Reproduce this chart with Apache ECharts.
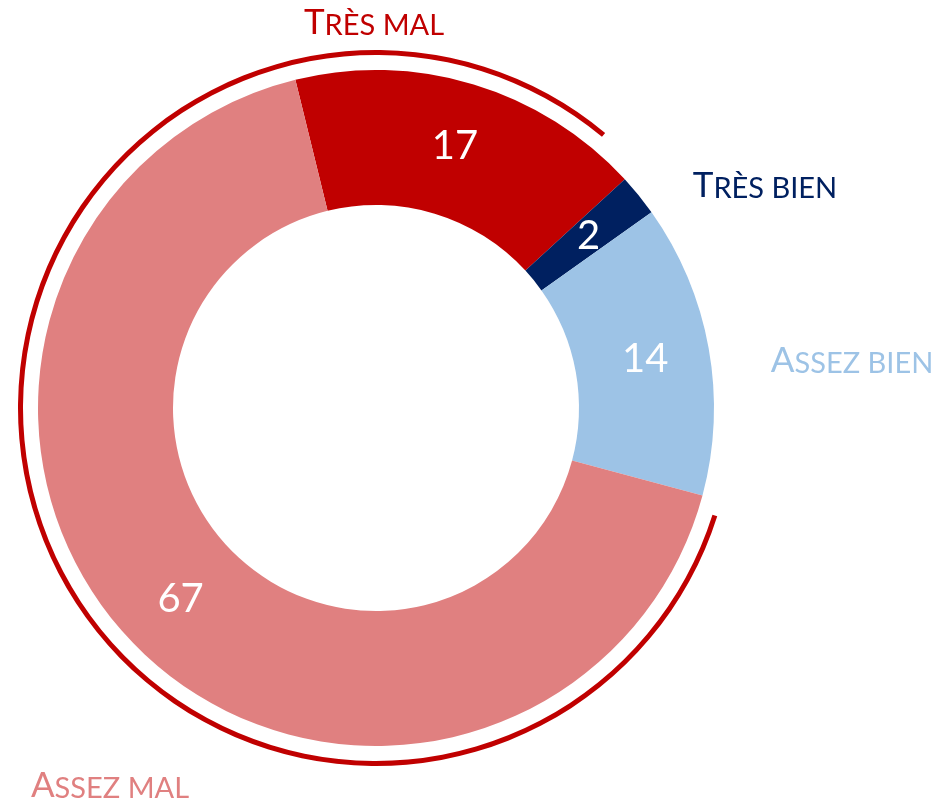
<!DOCTYPE html>
<html>
<head>
<meta charset="utf-8">
<script src="https://cdn.jsdelivr.net/npm/echarts@6/dist/echarts.min.js"></script>
<style>
  html, body { margin: 0; padding: 0; background: #fff; }
  #chart { width: 938px; height: 804px; }
</style>
</head>
<body>
<div id="chart"></div>
<script>
// categories and values, in clockwise order from the top
var categories = ['Très mal', 'Très bien', 'Assez bien', 'Assez mal'];
var values = [17, 2, 14, 67];
// bracket arc round the "mal" slices: covered degrees, then the gap
var bracketArc = [292.2, 67.8];

var palette = ['#C00000', '#002060', '#9DC3E6', '#E08080'];
var labelPos = [[374, 23], [765, 186], [852, 361], [110, 786]];
var fontFamily = 'Lato, "Open Sans", sans-serif';

function smallCaps(name) {
    return '{a|' + name.charAt(0).toUpperCase() + '}{b|' + name.slice(1).toUpperCase() + '}';
}

var chart = echarts.init(document.getElementById('chart'));

var sliceData = categories.map(function (name, i) {
    return {
        name: name,
        value: values[i],
        itemStyle: { color: palette[i] },
        label: { color: palette[i] }
    };
});

var option = {
    backgroundColor: '#fff',
    animation: false,
    series: [{
        // slices with values inside
        type: 'pie',
        center: [376, 408],
        radius: [203, 338],
        startAngle: 103.8,
        clockwise: true,
        avoidLabelOverlap: false,
        itemStyle: { borderColor: '#fff', borderWidth: 2 },
        label: {
            position: 'inside',
            formatter: '{c}',
            color: '#fff',
            fontFamily: fontFamily,
            fontSize: 40
        },
        labelLine: { show: false },
        emphasis: { disabled: true },
        data: categories.map(function (name, i) {
            return { name: name, value: values[i], itemStyle: { color: palette[i] } };
        })
    }, {
        // category names outside the ring
        type: 'pie',
        center: [376, 408],
        radius: [203, 338],
        startAngle: 103.8,
        silent: true,
        avoidLabelOverlap: false,
        itemStyle: { color: 'rgba(0,0,0,0)' },
        label: {
            position: 'outside',
            formatter: function (p) { return smallCaps(p.name); },
            fontFamily: fontFamily,
            rich: {
                a: { fontSize: 35, fontFamily: fontFamily, verticalAlign: 'bottom' },
                b: { fontSize: 29, fontFamily: fontFamily, verticalAlign: 'bottom' }
            }
        },
        labelLine: { show: false },
        labelLayout: function (params) {
            var p = labelPos[params.dataIndex];
            return { x: p[0], y: p[1], align: 'center', verticalAlign: 'middle' };
        },
        data: sliceData
    }, {
        // red bracket arc
        type: 'pie',
        center: [376, 408],
        radius: [353, 358],
        startAngle: -17.6,
        silent: true,
        label: { show: false },
        labelLine: { show: false },
        data: [
            { value: bracketArc[0], itemStyle: { color: '#C00000' } },
            { value: bracketArc[1], itemStyle: { color: 'rgba(0,0,0,0)' } }
        ]
    }]
};

chart.setOption(option);
</script>
</body>
</html>
